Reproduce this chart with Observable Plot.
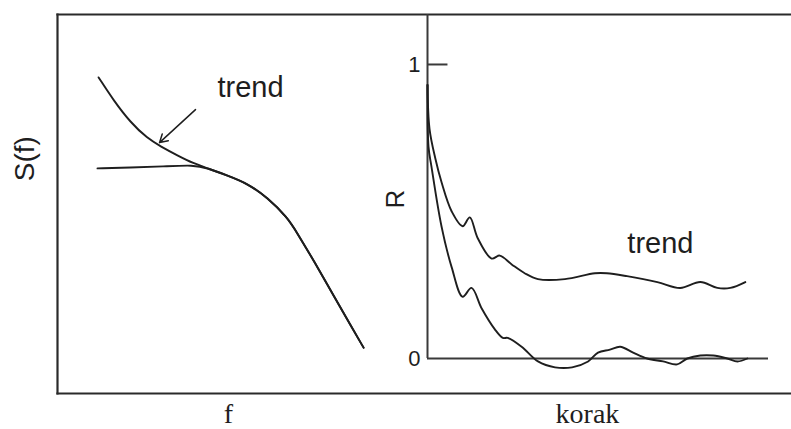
<!DOCTYPE html>
<html>
<head>
<meta charset="utf-8">
<script src="https://cdn.jsdelivr.net/npm/d3@7"></script>
<script src="https://cdn.jsdelivr.net/npm/@observablehq/plot@0.6"></script>
<style>
  html, body { margin: 0; padding: 0; background: #fff; }
  #wrap { position: relative; width: 791px; height: 429px; overflow: hidden; }
  #wrap svg { position: absolute; left: 0; top: 0; }
</style>
</head>
<body>
<div id="wrap"></div>
<script>
// ---- Left panel: spectrum S(f) ----
const fTrend = [1.12, 1.53, 1.99, 2.45, 2.81, 3.27, 3.71, 4.09, 4.63, 5.18, 5.72, 6.27, 6.54, 6.98, 7.52, 7.98, 8.34];
const sTrend = [8.34, 7.73, 7.15, 6.73, 6.52, 6.28, 6.07, 5.94, 5.75, 5.54, 5.17, 4.64, 4.22, 3.51, 2.59, 1.81, 1.21];
const fFlat  = [1.09, 1.99, 2.89, 3.71, 4.09, 4.63, 5.18, 5.72, 6.27, 6.54, 6.98, 7.52, 7.98, 8.34];
const sFlat  = [5.94, 5.96, 5.99, 6.03, 5.95, 5.75, 5.54, 5.17, 4.64, 4.22, 3.51, 2.59, 1.81, 1.21];
const spectrumLabels = { y: "S(f)", x: "f", trend: "trend" };
const arrowFrom = { f: 3.76, s: 7.49 };
const arrowTo   = { f: 2.78, s: 6.62 };
const trendLabelPos = { f: 5.26, s: 8.07 };

// ---- Right panel: autocorrelation R vs korak ----
const lagTrend = [0, 0.6, 2.3, 4.1, 7.1, 10.3, 12.4, 14.7, 18.8, 21.2, 24.7, 28.5, 32.4, 40.3, 49.1, 52.6, 58.5, 67.4, 74.1, 80.0, 85.0, 88.8, 93.2];
const rTrend   = [0.93, 0.78, 0.68, 0.60, 0.50, 0.45, 0.48, 0.41, 0.34, 0.35, 0.32, 0.29, 0.27, 0.27, 0.29, 0.29, 0.28, 0.26, 0.24, 0.26, 0.24, 0.24, 0.26];
const lagNoTrend = [0, 0.3, 1.2, 4.1, 7.1, 10.3, 12.9, 15.9, 19.7, 22.1, 23.5, 27.6, 32.4, 37.4, 42.4, 47.1, 50.0, 53.5, 56.5, 60.3, 64.4, 69.1, 73.2, 76.2, 80.0, 83.8, 87.9, 90.9, 93.8];
const rNoTrend   = [0.93, 0.72, 0.65, 0.45, 0.31, 0.21, 0.24, 0.17, 0.10, 0.07, 0.07, 0.04, -0.01, -0.03, -0.03, -0.01, 0.02, 0.03, 0.04, 0.02, 0.00, -0.01, -0.02, 0.00, 0.01, 0.01, 0.00, -0.01, 0.00];
const rTicks = [0, 1];
const corrLabels = { y: "R", x: "korak", trend: "trend" };
const korakLabelLag = 46.9;
const trendLabelRight = { lag: 68.3, r: 0.39 };

const ink = "#1e1e1e";
const sans = "Liberation Sans, Arial, Helvetica, sans-serif";
const serif = "Liberation Serif, Times New Roman, serif";

const trendData = fTrend.map((f, i) => ({ f, s: sTrend[i] }));
const flatData = fFlat.map((f, i) => ({ f, s: sFlat[i] }));

const left = Plot.plot({
  width: 791, height: 429,
  marginLeft: 57, marginRight: 0, marginTop: 14, marginBottom: 36,
  style: { background: "none", fontFamily: sans },
  x: { domain: [0, 20], axis: null },
  y: { domain: [0, 10], axis: null },
  marks: [
    Plot.frame({ anchor: "top", stroke: "#2a2a2a", strokeWidth: 2.2 }),
    Plot.frame({ anchor: "bottom", stroke: "#2a2a2a", strokeWidth: 2.2 }),
    Plot.frame({ anchor: "left", stroke: "#2a2a2a", strokeWidth: 2.2 }),
    Plot.line(trendData, { x: "f", y: "s", curve: "basis", stroke: ink, strokeWidth: 1.9 }),
    Plot.line(flatData, { x: "f", y: "s", curve: "basis", stroke: ink, strokeWidth: 1.9 }),
    Plot.arrow([{}], { x1: () => arrowFrom.f, y1: () => arrowFrom.s, x2: () => arrowTo.f, y2: () => arrowTo.s,
      stroke: ink, strokeWidth: 1.5, headLength: 9 }),
    Plot.text([spectrumLabels.trend], { x: () => trendLabelPos.f, y: () => trendLabelPos.s, text: d => d,
      fontSize: 29, fill: ink, textAnchor: "middle", lineAnchor: "middle" }),
    Plot.text([spectrumLabels.y], { frameAnchor: "left", y: () => 5.6, text: d => d, rotate: -90,
      dx: -32, fontSize: 28, fill: ink, lineAnchor: "middle" }),
    Plot.text([spectrumLabels.x], { frameAnchor: "bottom", x: () => 4.66, text: d => d, dy: 21,
      fontSize: 28, fontFamily: serif, fill: ink, lineAnchor: "middle" })
  ]
});

const upper = lagTrend.map((k, i) => ({ k, r: rTrend[i] }));
const lower = lagNoTrend.map((k, i) => ({ k, r: rNoTrend[i] }));

const right = Plot.plot({
  width: 791, height: 429,
  marginLeft: 427, marginRight: 23, marginTop: 14, marginBottom: 71,
  style: { background: "none", fontFamily: sans },
  x: { domain: [0, 100], axis: null },
  y: { domain: [0, 1.17], axis: null },
  marks: [
    Plot.ruleX([0], { stroke: "#3a3a3a", strokeWidth: 2 }),
    Plot.ruleY([0], { stroke: "#3a3a3a", strokeWidth: 2 }),
    Plot.ruleY([1], { x1: 0, x2: 6, stroke: "#3a3a3a", strokeWidth: 2 }),
    Plot.text(rTicks, { x: 0, y: d => d, text: d => String(d), dx: -7, textAnchor: "end",
      lineAnchor: "middle", fontSize: 22, fill: ink }),
    Plot.line(upper, { x: "k", y: "r", curve: "catmull-rom", stroke: ink, strokeWidth: 1.9 }),
    Plot.line(lower, { x: "k", y: "r", curve: "catmull-rom", stroke: ink, strokeWidth: 1.9 }),
    Plot.text([corrLabels.trend], { x: () => trendLabelRight.lag, y: () => trendLabelRight.r, text: d => d,
      fontSize: 29, fill: ink, textAnchor: "middle", lineAnchor: "middle" }),
    Plot.text([corrLabels.y], { frameAnchor: "left", y: () => 0.51, text: d => d, rotate: -90,
      dx: -32, fontSize: 26, fill: ink, lineAnchor: "middle" }),
    Plot.text([corrLabels.x], { frameAnchor: "bottom", x: () => korakLabelLag, text: d => d, dy: 56,
      fontSize: 28, fontFamily: serif, fill: ink, lineAnchor: "middle" })
  ]
});

document.getElementById("wrap").append(left, right);
</script>
</body>
</html>
